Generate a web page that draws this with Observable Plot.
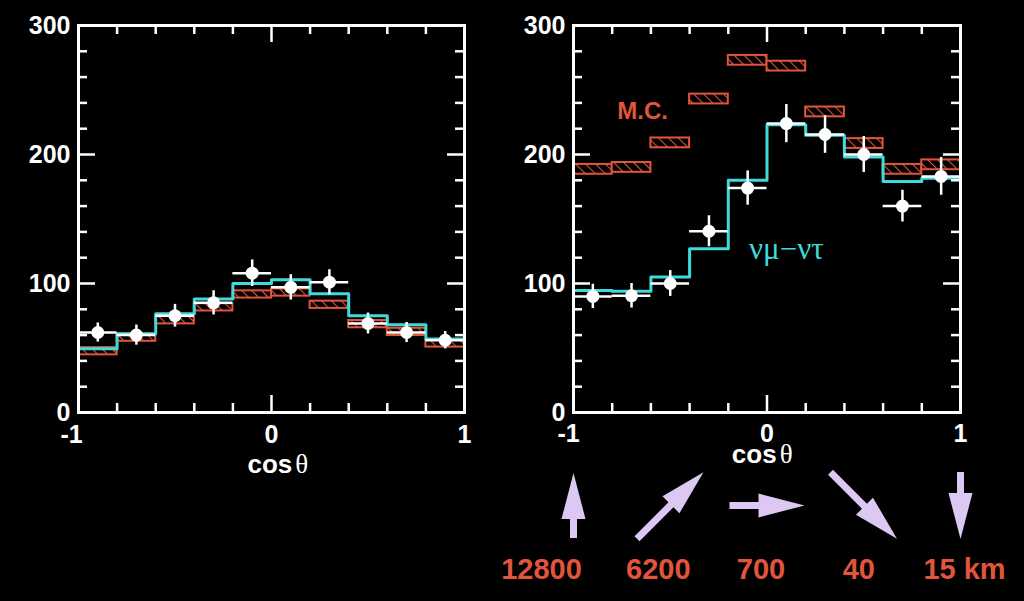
<!DOCTYPE html>
<html><head><meta charset="utf-8">
<script src="https://cdn.jsdelivr.net/npm/d3@7"></script>
<script src="https://cdn.jsdelivr.net/npm/@observablehq/plot@0.6"></script>
<style>
html,body{margin:0;padding:0;background:#000;}
#wrap{display:flex;width:1024px;height:601px;overflow:hidden;background:#000;}
#wrap svg{display:block;overflow:visible;}
</style></head><body>
<svg width="0" height="0" style="position:absolute">
<defs>
<pattern id="hatch" width="7" height="7" patternUnits="userSpaceOnUse" patternTransform="rotate(-45)">
<rect width="7" height="7" fill="#000"/>
<line x1="0" y1="0" x2="0" y2="7" stroke="#e0553c" stroke-width="2.2"/>
</pattern></defs></svg>
<div id="wrap"></div>
<script>
// ---- data ----
const binStart = [-1, -0.8, -0.6, -0.4, -0.2, 0, 0.2, 0.4, 0.6, 0.8];
const binWidth = 0.2;

// e-like (left)
const eData   = [62, 60, 75, 85, 108, 97, 101, 69, 62, 56];
const eErr    = [7.4, 7.8, 8.8, 9.4, 10.3, 9.8, 9.7, 8.1, 7.8, 6.7];
const eOsc    = [49.5, 61, 76.5, 88, 100, 103, 92, 75, 68, 57];
const eMC     = [47.5, 58, 71.5, 81.5, 91.5, 93, 83.5, 68.5, 62.5, 53.5];
const eMCErr  = [2.8, 2.8, 2.8, 2.8, 2.8, 2.8, 2.8, 2.8, 2.8, 2.8];

// mu-like (right)
const muData  = [90, 90.5, 100, 140.5, 174, 224, 215.5, 200, 160, 183];
const muErr   = [9.4, 9.5, 10, 12, 13.3, 14.8, 14.6, 14, 12.3, 14.6];
const muOsc   = [94.5, 94, 105, 127, 180, 223, 215, 198, 179, 181.5];
const muMC    = [188.5, 190, 209, 243, 273, 268.5, 233, 208.5, 188.5, 192];
const muMCErr = [3.8, 3.8, 3.8, 3.8, 3.8, 3.8, 3.8, 3.8, 3.8, 3.8];

// axis ticks
const xTickLabels = [-1, 0, 1];
const xMajor = [0];
const xMinor = [-0.8, -0.6, -0.4, -0.2, 0.2, 0.4, 0.6, 0.8];
const yTickLabels = [0, 100, 200, 300];
const yMajor = [100, 200];
const yMinor = [20, 40, 60, 80, 120, 140, 160, 180, 220, 240, 260, 280];

// path-length annotation (cos theta -> distance)
const arrowCos   = [-1, -0.5, 0, 0.5, 1];
const arrowAngle = [0, 45, 90, 135, 180];
const distLabels = ["12800", "6200", "700", "40", "15 km"];

// ---- styling / layout ----
const RED = "#e0553c", CYAN = "#3fdada", LAV = "#dcc8f2", WHITE = "#ffffff";
const SANS = "'Liberation Sans', Arial, Helvetica, sans-serif";
const SERIF = "'Liberation Serif', 'Times New Roman', serif";
const H = 601, MT = 25, MB = 189;
const innerH = H - MT - MB;
const pxY = innerH / 300;

function rows(data, err, osc, mc, mcErr) {
  return binStart.map((x0, i) => ({
    x0, x1: x0 + binWidth, xc: x0 + binWidth / 2,
    v: data[i], e: err[i], osc: osc[i], mc: mc[i], mcE: mcErr[i]
  }));
}

function arrowSymbol(angleDeg, len) {
  const hl = 46, hw = 12, sw = 3.5;
  const a = angleDeg * Math.PI / 180, c = Math.cos(a), s = Math.sin(a);
  const pts = [[0, -len/2], [hw, -len/2 + hl], [sw, -len/2 + hl], [sw, len/2],
               [-sw, len/2], [-sw, -len/2 + hl], [-hw, -len/2 + hl]];
  return {draw(ctx) {
    pts.forEach(([x, y], i) => {
      const X = x * c - y * s, Y = x * s + y * c;
      i ? ctx.lineTo(X, Y) : ctx.moveTo(X, Y);
    });
    ctx.closePath();
  }};
}

function panel({width, ml, mr, data, extra = [], xLabelDy, cosBase, cosX, minusDx}) {
  const innerW = width - ml - mr;
  const pxX = innerW / 2;
  const majX = 17 / pxX, minX = 9 / pxX, majY = 17 / pxY, minY = 9 / pxY;
  const cosY = -(cosBase - (MT + innerH)) / pxY;
  const steps = data.map(d => ({x: d.x0, y: d.osc})).concat([{x: 1, y: data[data.length - 1].osc}]);
  const tk = {stroke: WHITE, strokeWidth: 2.5};
  return Plot.plot({
    width, height: H, marginLeft: ml, marginRight: mr, marginTop: MT, marginBottom: MB,
    style: {background: "#000", color: WHITE, overflow: "visible"},
    x: {domain: [-1, 1], axis: null},
    y: {domain: [0, 300], axis: null},
    marks: [
      // MC boxes
      Plot.rect(data, {x1: "x0", x2: "x1", y1: d => d.mc - d.mcE, y2: d => d.mc + d.mcE,
        fill: "url(#hatch)", stroke: RED, strokeWidth: 2}),
      // oscillation expectation
      Plot.line(steps, {x: "x", y: "y", curve: "step-after", stroke: CYAN, strokeWidth: 3}),
      // data
      Plot.ruleY(data, {y: "v", x1: "x0", x2: "x1", stroke: WHITE, strokeWidth: 2.5}),
      Plot.ruleX(data, {x: "xc", y1: d => d.v - d.e, y2: d => d.v + d.e, stroke: WHITE, strokeWidth: 2.5}),
      Plot.dot(data, {x: "xc", y: "v", r: 6.5, fill: WHITE, stroke: "none"}),
      // inward ticks on all four sides
      Plot.ruleX(xMajor, {x: d => d, y1: () => 0, y2: () => majY, ...tk}),
      Plot.ruleX(xMinor, {x: d => d, y1: () => 0, y2: () => minY, ...tk}),
      Plot.ruleX(xMajor, {x: d => d, y1: () => 300, y2: () => 300 - majY, ...tk}),
      Plot.ruleX(xMinor, {x: d => d, y1: () => 300, y2: () => 300 - minY, ...tk}),
      Plot.ruleY(yMajor, {y: d => d, x1: () => -1, x2: () => -1 + majX, ...tk}),
      Plot.ruleY(yMinor, {y: d => d, x1: () => -1, x2: () => -1 + minX, ...tk}),
      Plot.ruleY(yMajor, {y: d => d, x1: () => 1, x2: () => 1 - majX, ...tk}),
      Plot.ruleY(yMinor, {y: d => d, x1: () => 1, x2: () => 1 - minX, ...tk}),
      Plot.frame({stroke: WHITE, strokeWidth: 3}),
      // tick labels
      Plot.axisY({ticks: yTickLabels, tickSize: 0, tickPadding: 8, tickFormat: d => String(d),
        fontSize: 25, fontWeight: "bold", fontFamily: SANS, fill: WHITE, label: null}),
      Plot.text(xTickLabels.filter(d => d < 0), {x: d => d, y: () => 0, text: d => String(d), dy: xLabelDy, dx: minusDx,
        lineAnchor: "top", fontSize: 25, fontWeight: "bold", fontFamily: SANS, fill: WHITE}),
      Plot.text(xTickLabels.filter(d => d >= 0), {x: d => d, y: () => 0, text: d => String(d), dy: xLabelDy,
        lineAnchor: "top", fontSize: 25, fontWeight: "bold", fontFamily: SANS, fill: WHITE}),
      // axis title
      Plot.text(["cos"], {x: () => cosX, y: () => cosY, text: d => d, textAnchor: "end", lineAnchor: "bottom",
        fontSize: 26, fontWeight: "bold", fontFamily: SANS, fill: WHITE}),
      Plot.text(["θ"], {x: () => cosX, y: () => cosY, text: d => d, textAnchor: "start", dx: 3, lineAnchor: "bottom",
        fontSize: 27, fontFamily: SERIF, fill: WHITE}),
      ...extra
    ]
  });
}

const eRows = rows(eData, eErr, eOsc, eMC, eMCErr);
const muRows = rows(muData, muErr, muOsc, muMC, muMCErr);

// right-panel annotations
const arrowLen = [65, 94, 75, 94, 67];
const labelDx = [-32, -12, -6, -5, 4];
const yArrow = -(505 - (MT + innerH)) / pxY;
const yLabel = -(578 - (MT + innerH)) / pxY;
const extraMu = [
  Plot.text(["M.C."], {x: () => -0.643, y: () => (MT + innerH - 118) / pxY, text: d => d, lineAnchor: "bottom",
    fontSize: 24, fontWeight: "bold", fontFamily: SANS, fill: RED}),
  Plot.text(["νμ−ντ"], {x: () => 0.10, y: () => (MT + innerH - 258) / pxY, text: d => d, lineAnchor: "bottom",
    fontSize: 31, fontFamily: SERIF, fill: CYAN}),
  ...arrowCos.map((c, i) => Plot.dot([c], {x: d => d, y: () => yArrow, r: 10,
    symbol: arrowSymbol(arrowAngle[i], arrowLen[i]), fill: LAV, stroke: "none"})),
  ...arrowCos.map((c, i) => Plot.text([distLabels[i]], {x: () => c, y: () => yLabel, text: d => d,
    dx: labelDx[i], lineAnchor: "bottom", fontSize: 29, fontWeight: "bold", fontFamily: SANS, fill: RED}))
];

const wrap = document.getElementById("wrap");
wrap.append(panel({width: 500, ml: 78, mr: 36, data: eRows, xLabelDy: 13, cosBase: 472, cosX: 0.108, minusDx: -7}));
wrap.append(panel({width: 524, ml: 73, mr: 64, data: muRows, extra: extraMu, xLabelDy: 12, cosBase: 462, cosX: 0.05, minusDx: -5}));
</script>
</body></html>
